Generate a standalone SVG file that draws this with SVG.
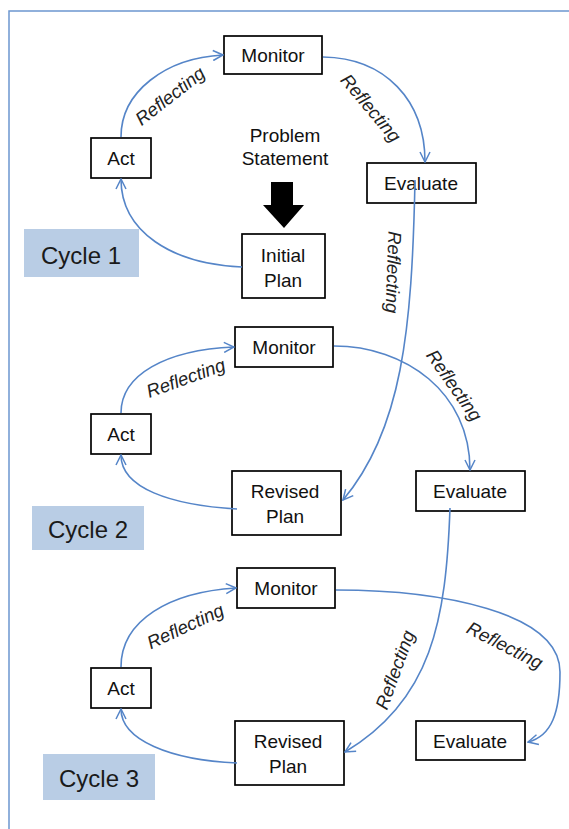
<svg xmlns="http://www.w3.org/2000/svg" width="569" height="829" viewBox="0 0 569 829">
  <style>
    .box { fill: #ffffff; stroke: #000000; stroke-width: 1.7; }
    .lbl { font-family: "Liberation Sans", Arial, sans-serif; font-size: 19px; fill: #111111; text-anchor: middle; }
    .cyc { fill: #B9CDE5; }
    .cyct { font-family: "Liberation Sans", Arial, sans-serif; font-size: 24px; fill: #1a1a1a; text-anchor: middle; }
    .edge { fill: none; stroke: #5585C8; stroke-width: 1.6; marker-end: url(#ah); }
    .refl { font-family: "Liberation Sans", Arial, sans-serif; font-size: 18.5px; font-style: italic; fill: #222222; text-anchor: middle; }
  </style>
  <defs>
    <marker id="ah" viewBox="0 0 12 12" refX="11" refY="6" markerWidth="12" markerHeight="12" markerUnits="userSpaceOnUse" orient="auto">
      <path d="M1,1 L11,6 L1,11" fill="none" stroke="#5585C8" stroke-width="1.5"/>
    </marker>
  </defs>

  <!-- page frame -->
  <rect x="9" y="11" width="600" height="860" fill="#ffffff" stroke="#6C97CF" stroke-width="1.5"/>

  <!-- cycle 1 -->
  <g id="c1-monitor"><rect class="box" x="224" y="36" width="98" height="38"/><text class="lbl" x="273" y="62">Monitor</text></g>
  <g id="c1-act"><rect class="box" x="91" y="138" width="60" height="40"/><text class="lbl" x="121" y="165">Act</text></g>
  <g id="c1-evaluate"><rect class="box" x="367" y="163" width="109" height="40"/><text class="lbl" x="421" y="190">Evaluate</text></g>
  <g id="c1-plan"><rect class="box" x="242" y="234" width="83" height="64"/><text class="lbl" x="283" y="262">Initial</text><text class="lbl" x="283" y="287">Plan</text></g>
  <g id="problem-statement">
    <text class="lbl" x="285" y="142">Problem</text>
    <text class="lbl" x="285" y="165">Statement</text>
    <path d="M271,182 H293 V205 H304 L284,228 L263,205 H271 Z" fill="#000000"/>
  </g>
  <g id="cycle1"><rect class="cyc" x="24" y="229" width="115" height="48"/><text class="cyct" x="81" y="264">Cycle 1</text></g>

  <!-- cycle 2 -->
  <g id="c2-monitor"><rect class="box" x="235" y="327" width="98" height="40"/><text class="lbl" x="284" y="354">Monitor</text></g>
  <g id="c2-act"><rect class="box" x="91" y="414" width="60" height="40"/><text class="lbl" x="121" y="441">Act</text></g>
  <g id="c2-plan"><rect class="box" x="232" y="471" width="109" height="64"/><text class="lbl" x="285" y="498">Revised</text><text class="lbl" x="285" y="523">Plan</text></g>
  <g id="c2-evaluate"><rect class="box" x="416" y="471" width="109" height="40"/><text class="lbl" x="470" y="498">Evaluate</text></g>
  <g id="cycle2"><rect class="cyc" x="32" y="506" width="112" height="44"/><text class="cyct" x="88" y="538">Cycle 2</text></g>

  <!-- cycle 3 -->
  <g id="c3-monitor"><rect class="box" x="237" y="568" width="98" height="40"/><text class="lbl" x="286" y="595">Monitor</text></g>
  <g id="c3-act"><rect class="box" x="91" y="668" width="60" height="40"/><text class="lbl" x="121" y="695">Act</text></g>
  <g id="c3-plan"><rect class="box" x="235" y="721" width="109" height="64"/><text class="lbl" x="288" y="748">Revised</text><text class="lbl" x="288" y="773">Plan</text></g>
  <g id="c3-evaluate"><rect class="box" x="416" y="721" width="109" height="39"/><text class="lbl" x="470" y="748">Evaluate</text></g>
  <g id="cycle3"><rect class="cyc" x="43" y="754" width="112" height="46"/><text class="cyct" x="99" y="787">Cycle 3</text></g>

  <!-- connectors, drawn over the boxes so the Evaluate hand-off line shows through -->
  <g id="connectors">
    <!-- cycle 1 -->
    <path class="edge" d="M121,137 C121,92 165,58 223,55"/>
    <path class="edge" d="M323,57 C385,58 425,100 425,162"/>
    <path class="edge" d="M242,267 C172,264 121,232 121,179"/>
    <path class="edge" d="M415,180 C412,330 402,430 343,500"/>
    <!-- cycle 2 -->
    <path class="edge" d="M121,413 C121,375 165,350 234,347"/>
    <path class="edge" d="M334,346 C405,346 470,392 470,470"/>
    <path class="edge" d="M237,509 C170,505 121,488 121,455"/>
    <path class="edge" d="M450,508 C446,620 432,700 345,752"/>
    <!-- cycle 3 -->
    <path class="edge" d="M121,667 C121,620 170,592 236,588"/>
    <path class="edge" d="M336,590 C440,590 560,612 560,672 C560,712 552,736 528,742"/>
    <path class="edge" d="M237,763 C170,760 121,740 121,709"/>
  </g>

  <!-- edge labels -->
  <g id="edge-labels">
    <text class="refl" transform="translate(174,101) rotate(-38)">Reflecting</text>
    <text class="refl" transform="translate(366,112) rotate(50)">Reflecting</text>
    <text class="refl" transform="translate(387,272) rotate(92)">Reflecting</text>
    <text class="refl" transform="translate(188,384) rotate(-20)">Reflecting</text>
    <text class="refl" transform="translate(449,389) rotate(55)">Reflecting</text>
    <text class="refl" transform="translate(401,672) rotate(-70)">Reflecting</text>
    <text class="refl" transform="translate(188,632) rotate(-25)">Reflecting</text>
    <text class="refl" transform="translate(502,651) rotate(27)">Reflecting</text>
  </g>
</svg>
